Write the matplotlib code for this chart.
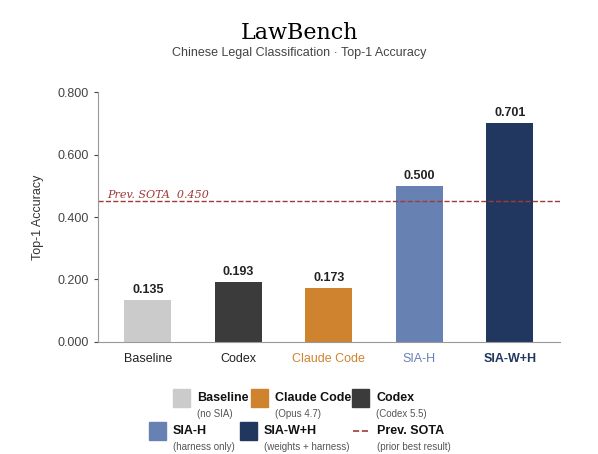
import matplotlib
matplotlib.use("Agg")
import matplotlib.pyplot as plt
from matplotlib.patches import Rectangle
from matplotlib.lines import Line2D

categories = ["Baseline", "Codex", "Claude Code", "SIA-H", "SIA-W+H"]
values = [0.135, 0.193, 0.173, 0.500, 0.701]
colors = ["#cbcbcb", "#3b3b3b", "#d0832f", "#6781b3", "#22375f"]
label_colors = ["#222222", "#222222", "#d0832f", "#6781b3", "#22375f"]
sota = 0.450
sota_color = "#9e3b3b"

legend_items = [
    ("Baseline", "(no SIA)", "#cbcbcb"),
    ("Claude Code", "(Opus 4.7)", "#d0832f"),
    ("Codex", "(Codex 5.5)", "#3b3b3b"),
    ("SIA-H", "(harness only)", "#6781b3"),
    ("SIA-W+H", "(weights + harness)", "#22375f"),
    ("Prev. SOTA", "(prior best result)", None),
]

plt.rcParams["font.family"] = ["Liberation Sans", "DejaVu Sans"]
fig = plt.figure(figsize=(5.98, 4.54), dpi=100)
ax = fig.add_axes([0.164, 0.247, 0.772, 0.55])

x = range(len(categories))
ax.bar(x, values, width=0.52, color=colors)
for xi, v in zip(x, values):
    ax.text(xi, v + 0.012, f"{v:.3f}", ha="center", va="bottom",
            fontsize=9, fontweight="bold", color="#222222")

ax.axhline(sota, color=sota_color, linestyle="--", linewidth=1)
ax.text(-0.45, sota + 0.005, f"Prev. SOTA  {sota:.3f}", color=sota_color,
        fontsize=8, style="italic", family="DejaVu Serif", va="bottom")

ax.set_ylim(0, 0.8)
ax.set_xlim(-0.55, 4.55)
ticks = [0, 0.2, 0.4, 0.6, 0.8]
ax.set_yticks(ticks)
ax.set_yticklabels([f"{t:.3f}" for t in ticks])
ax.set_xticks(list(x))
ax.set_xticklabels(categories)
ax.tick_params(labelsize=9, colors="#444444", length=3)
ax.tick_params(axis="x", length=0, pad=8)
for lbl, c in zip(ax.get_xticklabels(), label_colors):
    lbl.set_color(c)
ax.get_xticklabels()[-1].set_fontweight("bold")
ax.set_ylabel("Top-1 Accuracy", fontsize=9, color="#333333", labelpad=10)
for s in ["top", "right"]:
    ax.spines[s].set_visible(False)
for s in ["left", "bottom"]:
    ax.spines[s].set_color("#999999")

fig.text(0.5, 0.915, "LawBench", ha="center", fontsize=16, family="DejaVu Serif")
fig.text(0.5, 0.877, "Chinese Legal Classification · Top-1 Accuracy", ha="center",
         fontsize=9, color="#444444")

# custom legend: two rows of three
row_x = [[0.329, 0.46, 0.629], [0.289, 0.441, 0.63]]
row_y = [0.123, 0.051]
for i, (name, sub, col) in enumerate(legend_items):
    r, c = divmod(i, 3)
    lx, ly = row_x[r][c], row_y[r]
    if col is not None:
        fig.patches.append(Rectangle((lx - 0.04, ly - 0.02), 0.028, 0.04,
                                     transform=fig.transFigure, color=col))
    else:
        fig.lines.append(Line2D([lx - 0.04, lx - 0.012], [ly, ly], transform=fig.transFigure,
                                color=sota_color, linestyle="--", linewidth=1.2))
    fig.text(lx, ly, name, fontsize=9, fontweight="bold", va="center", color="#111111")
    fig.text(lx, ly - 0.035, sub, fontsize=7, va="center", color="#555555")

fig.savefig("out.png", dpi=100, facecolor="white")
